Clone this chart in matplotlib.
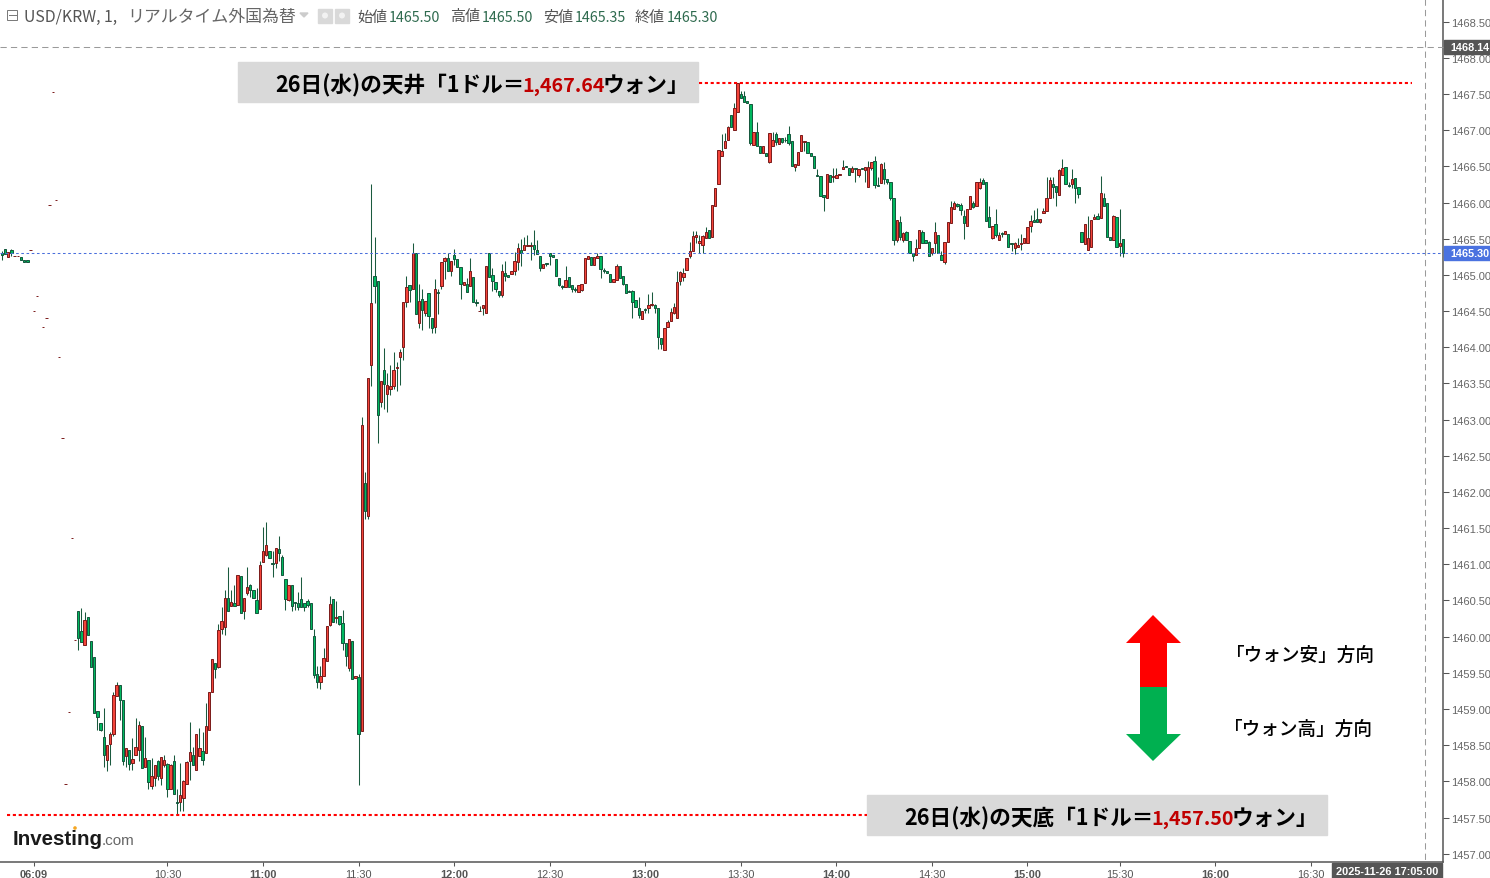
import matplotlib
matplotlib.use("Agg")
import matplotlib.pyplot as plt
from matplotlib.patches import Rectangle, Polygon, Circle

plt.rcParams['font.family'] = ['Noto Sans CJK JP', 'DejaVu Sans']

# thin pre-market bars (bar number counted back from the first full bar)
pre_bars = [-24, -23, -22, -21, -20, -19, -18, -17, -16, -15, -14, -13,
            -11, -10, -9, -8, -7, -6, -5, -4, -3, -2, -1]
pre_open = [1465.30, 1465.36, 1465.25, 1465.35, 1465.26, 1465.26, 1465.25, 1465.21, 1465.21, 1465.35, 1464.50, 1464.71,
            1464.28, 1464.41, 1465.96, 1467.53, 1466.03, 1463.86, 1462.74, 1457.97, 1458.96, 1461.37, 1459.96]
pre_high = [1465.33, 1465.36, 1465.32, 1465.36, 1465.26, 1465.26, 1465.25, 1465.21, 1465.21, 1465.35, 1464.50, 1464.71,
            1464.28, 1464.41, 1465.96, 1467.53, 1466.03, 1463.86, 1462.74, 1457.97, 1458.96, 1461.37, 1459.96]
pre_low = [1465.20, 1465.29, 1465.25, 1465.26, 1465.26, 1465.26, 1465.21, 1465.18, 1465.18, 1465.35, 1464.50, 1464.71,
           1464.28, 1464.41, 1465.96, 1467.53, 1466.03, 1463.86, 1462.74, 1457.97, 1458.96, 1461.37, 1459.96]
pre_close = [1465.28, 1465.29, 1465.32, 1465.30, 1465.26, 1465.26, 1465.21, 1465.18, 1465.18, 1465.35, 1464.50, 1464.71,
             1464.28, 1464.41, 1465.96, 1467.53, 1466.03, 1463.86, 1462.74, 1457.97, 1458.96, 1461.37, 1459.96]

opens = [
    1460.35, 1460.08, 1459.89, 1460.27, 1459.94, 1459.72, 1458.97, 1458.81, 1458.61, 1458.29,
    1458.51, 1458.65, 1459.18, 1459.33, 1459.12, 1458.35, 1458.43, 1458.25, 1458.36, 1458.43,
    1458.77, 1458.20, 1458.29, 1457.93, 1458.04, 1458.28, 1458.04, 1458.22, 1458.24, 1457.89,
    1458.28, 1457.71, 1457.71, 1457.77, 1457.96, 1458.28, 1458.36, 1458.15, 1458.35, 1458.42,
    1458.39, 1458.71, 1459.24, 1459.63, 1459.58, 1460.10, 1460.13, 1460.53, 1460.42, 1460.47,
    1460.44, 1460.84, 1460.35, 1460.60, 1460.71, 1460.64, 1460.51, 1460.38, 1461.03, 1461.13,
    1461.18, 1461.02, 1461.02, 1461.21, 1461.10, 1460.80, 1460.51, 1460.71, 1460.48, 1460.46,
    1460.52, 1460.47, 1460.49, 1460.47, 1460.01, 1459.48, 1459.37, 1459.46, 1459.66, 1460.16,
    1460.52, 1460.26, 1460.29, 1460.19, 1459.91, 1459.57, 1459.94, 1459.43, 1459.44, 1458.70,
    1462.13, 1461.67,
    1463.75, 1464.98, 1464.92, 1463.24, 1463.69, 1463.35, 1463.42, 1463.46, 1463.71, 1463.87,
    1464.00, 1464.63, 1464.86, 1464.81, 1465.30, 1464.34, 1464.66, 1464.47, 1464.75, 1464.40,
    1464.28, 1464.76, 1464.85, 1465.19, 1465.23, 1465.05, 1465.28, 1465.22, 1465.11, 1464.86,
    1464.87, 1464.85, 1464.97, 1464.62, 1464.50, 1464.54, 1464.47, 1465.30, 1465.00, 1464.90,
    1464.78, 1464.72, 1465.03, 1465.00, 1465.01, 1465.05, 1465.18, 1465.34, 1465.34, 1465.40,
    1465.40, 1465.41, 1465.34, 1465.26, 1465.10, 1465.16, 1465.30, 1465.28, 1465.22, 1464.96,
    1464.85, 1464.83, 1464.97, 1464.86, 1464.80, 1464.76, 1464.79, 1464.89, 1465.22, 1465.25,
    1465.14, 1465.23, 1465.26, 1465.07, 1465.05, 1465.01, 1464.90, 1464.93, 1465.12, 1464.98,
    1464.87, 1464.78, 1464.78, 1464.65, 1464.54, 1464.39, 1464.53, 1464.54, 1464.58, 1464.58,
    1464.54, 1464.13, 1463.96, 1464.28, 1464.36, 1464.47, 1464.40, 1464.91, 1464.97,
    1465.07, 1465.26, 1465.33, 1465.53, 1465.44, 1465.41, 1465.51, 1465.62, 1465.52, 1465.95,
    1466.25, 1466.64, 1466.75, 1466.86, 1467.21, 1467.00, 1467.25, 1467.50, 1467.47, 1467.40,
    1467.36, 1466.80, 1466.97, 1466.78, 1466.68, 1466.68, 1466.56, 1466.78, 1466.95, 1466.81,
    1466.89, 1466.87, 1466.95, 1466.85, 1466.49, 1466.52, 1466.71, 1466.84, 1466.84, 1466.68,
    1466.64, 1466.38, 1466.37, 1466.10, 1466.06, 1466.38, 1466.35, 1466.34, 1466.38, 1466.46,
    1466.50, 1466.48, 1466.42, 1466.48, 1466.38, 1466.48, 1466.45, 1466.22, 1466.48, 1466.57,
    1466.24, 1466.27, 1466.46, 1466.32, 1466.28, 1466.06, 1465.48, 1465.73, 1465.48, 1465.59,
    1465.47, 1465.30, 1465.27, 1465.37, 1465.59, 1465.48, 1465.45, 1465.30, 1465.44, 1465.55,
    1465.27, 1465.18, 1465.45, 1465.72, 1465.91, 1465.98, 1465.97, 1465.82, 1465.67, 1465.91,
    1465.99, 1465.95, 1466.20, 1466.31, 1466.28, 1465.80, 1465.51, 1465.70, 1465.48, 1465.58,
    1465.57, 1465.57, 1465.44, 1465.37, 1465.39, 1465.43, 1465.44, 1465.44, 1465.68, 1465.76,
    1465.77, 1465.73, 1465.86, 1465.88, 1466.06, 1466.25, 1466.23, 1466.10, 1466.38, 1466.49,
    1466.24, 1466.25, 1466.34, 1466.21, 1465.59, 1465.43, 1465.34, 1465.39, 1465.77, 1465.81,
    1465.79, 1466.06, 1465.99, 1465.52, 1465.48, 1465.80, 1465.40, 1465.50,
]
highs = [
    1460.35, 1460.40, 1460.34, 1460.27, 1459.94, 1459.72, 1458.97, 1458.81, 1459.01, 1458.50,
    1458.68, 1459.23, 1459.37, 1459.33, 1459.12, 1458.46, 1458.43, 1458.60, 1458.88, 1458.84,
    1458.77, 1458.61, 1458.29, 1458.32, 1458.23, 1458.30, 1458.34, 1458.36, 1458.25, 1458.24,
    1458.36, 1457.89, 1458.25, 1458.02, 1458.28, 1458.82, 1458.47, 1458.65, 1458.74, 1458.68,
    1459.08, 1459.23, 1459.69, 1459.63, 1460.17, 1460.41, 1460.65, 1460.96, 1460.64, 1460.72,
    1460.85, 1460.84, 1460.53, 1460.96, 1460.73, 1460.64, 1460.67, 1461.04, 1461.52, 1461.58,
    1461.18, 1461.18, 1461.22, 1461.39, 1461.13, 1460.80, 1460.71, 1460.71, 1460.48, 1460.62,
    1460.82, 1460.47, 1460.52, 1460.47, 1460.11, 1459.59, 1459.59, 1459.84, 1460.15, 1460.56,
    1460.52, 1460.49, 1460.29, 1460.37, 1459.91, 1459.97, 1459.94, 1459.46, 1459.49, 1463.04,
    1462.27, 1463.58,
    1466.26, 1465.52, 1464.92, 1463.53, 1463.99, 1463.64, 1463.76, 1463.93, 1463.80, 1463.98,
    1464.62, 1464.99, 1464.86, 1465.44, 1465.30, 1464.87, 1464.80, 1464.64, 1464.75, 1464.40,
    1464.95, 1464.80, 1465.18, 1465.25, 1465.30, 1465.19, 1465.36, 1465.22, 1465.11, 1464.90,
    1464.96, 1465.23, 1464.97, 1464.66, 1464.57, 1464.59, 1465.12, 1465.30, 1465.10, 1464.90,
    1464.78, 1465.15, 1465.19, 1465.00, 1465.05, 1465.32, 1465.44, 1465.50, 1465.53, 1465.55,
    1465.45, 1465.62, 1465.48, 1465.26, 1465.15, 1465.16, 1465.30, 1465.28, 1465.22, 1464.96,
    1464.86, 1465.12, 1464.97, 1464.86, 1464.83, 1464.86, 1464.87, 1465.23, 1465.26, 1465.25,
    1465.25, 1465.30, 1465.26, 1465.10, 1465.05, 1465.01, 1464.94, 1465.15, 1465.12, 1464.98,
    1464.87, 1464.79, 1464.79, 1464.65, 1464.69, 1464.50, 1464.54, 1464.74, 1464.76, 1464.60,
    1464.54, 1464.13, 1464.27, 1464.37, 1464.54, 1464.61, 1465.05, 1465.05, 1465.10,
    1465.23, 1465.45, 1465.61, 1465.61, 1465.55, 1465.55, 1465.66, 1465.62, 1465.97, 1466.20,
    1466.73, 1466.95, 1466.96, 1467.06, 1467.21, 1467.38, 1467.65, 1467.54, 1467.54, 1467.40,
    1467.36, 1466.97, 1467.11, 1466.78, 1466.78, 1466.68, 1466.96, 1466.98, 1466.98, 1466.89,
    1466.89, 1466.91, 1467.06, 1466.85, 1466.53, 1466.70, 1466.93, 1466.85, 1466.84, 1466.68,
    1466.64, 1466.47, 1466.37, 1466.10, 1466.39, 1466.38, 1466.48, 1466.48, 1466.39, 1466.59,
    1466.50, 1466.48, 1466.50, 1466.48, 1466.46, 1466.48, 1466.49, 1466.57, 1466.56, 1466.65,
    1466.36, 1466.55, 1466.56, 1466.32, 1466.28, 1466.06, 1465.76, 1465.82, 1465.59, 1465.61,
    1465.47, 1465.30, 1465.49, 1465.62, 1465.62, 1465.48, 1465.47, 1465.37, 1465.73, 1465.55,
    1465.33, 1465.45, 1465.73, 1466.02, 1466.02, 1465.99, 1465.99, 1465.90, 1465.91, 1466.09,
    1466.02, 1466.28, 1466.34, 1466.34, 1466.28, 1465.95, 1465.68, 1465.91, 1465.59, 1465.59,
    1465.61, 1465.57, 1465.44, 1465.45, 1465.51, 1465.57, 1465.51, 1465.66, 1465.83, 1465.90,
    1465.92, 1465.77, 1465.92, 1466.36, 1466.36, 1466.35, 1466.23, 1466.46, 1466.60, 1466.49,
    1466.28, 1466.46, 1466.34, 1466.21, 1465.59, 1465.70, 1465.82, 1465.76, 1465.84, 1465.86,
    1466.37, 1466.13, 1465.99, 1465.52, 1465.83, 1465.80, 1465.91, 1465.50,
]
lows = [
    1459.81, 1459.92, 1459.89, 1460.02, 1459.58, 1458.95, 1458.71, 1458.69, 1458.20, 1458.14,
    1458.22, 1458.63, 1459.18, 1458.85, 1458.23, 1458.20, 1458.16, 1458.15, 1458.36, 1458.28,
    1458.18, 1458.20, 1457.90, 1457.90, 1457.94, 1458.02, 1457.95, 1458.20, 1457.79, 1457.89,
    1457.82, 1457.54, 1457.59, 1457.59, 1457.96, 1458.02, 1458.22, 1458.15, 1458.35, 1458.23,
    1458.39, 1458.71, 1459.24, 1459.43, 1459.56, 1460.03, 1460.02, 1460.36, 1460.42, 1460.43,
    1460.44, 1460.33, 1460.25, 1460.57, 1460.55, 1460.53, 1460.33, 1460.38, 1461.03, 1461.11,
    1461.09, 1460.82, 1460.95, 1461.04, 1460.85, 1460.37, 1460.49, 1460.35, 1460.37, 1460.37,
    1460.41, 1460.35, 1460.41, 1460.11, 1459.43, 1459.29, 1459.27, 1459.46, 1459.66, 1460.15,
    1460.20, 1460.19, 1460.16, 1459.82, 1459.60, 1459.52, 1459.41, 1459.43, 1457.95, 1458.70,
    1461.62, 1461.62,
    1463.47, 1464.61, 1462.68, 1463.18, 1463.15, 1463.11, 1463.34, 1463.42, 1463.39, 1463.48,
    1463.83, 1464.55, 1464.62, 1464.81, 1464.46, 1464.27, 1464.24, 1464.43, 1464.27, 1464.20,
    1464.20, 1464.46, 1464.80, 1464.95, 1465.05, 1464.98, 1465.14, 1465.11, 1464.66, 1464.86,
    1464.77, 1464.85, 1464.63, 1464.57, 1464.50, 1464.45, 1464.47, 1464.97, 1464.78, 1464.77,
    1464.70, 1464.70, 1464.91, 1464.97, 1465.01, 1465.00, 1465.07, 1465.12, 1465.34, 1465.40,
    1465.20, 1465.27, 1465.29, 1465.05, 1465.10, 1465.12, 1465.14, 1465.25, 1464.98, 1464.84,
    1464.80, 1464.83, 1464.83, 1464.77, 1464.77, 1464.76, 1464.78, 1464.89, 1465.22, 1465.14,
    1465.14, 1465.23, 1464.96, 1465.03, 1465.03, 1464.90, 1464.90, 1464.93, 1464.96, 1464.86,
    1464.75, 1464.76, 1464.40, 1464.55, 1464.40, 1464.39, 1464.47, 1464.47, 1464.57, 1464.48,
    1463.97, 1463.97, 1463.96, 1464.28, 1464.36, 1464.46, 1464.40, 1464.86, 1464.91,
    1465.07, 1465.24, 1465.33, 1465.44, 1465.30, 1465.30, 1465.51, 1465.51, 1465.52, 1465.95,
    1466.25, 1466.64, 1466.75, 1466.86, 1467.05, 1467.00, 1467.25, 1467.44, 1467.39, 1467.38,
    1466.80, 1466.79, 1466.78, 1466.68, 1466.68, 1466.64, 1466.54, 1466.78, 1466.80, 1466.81,
    1466.82, 1466.84, 1466.79, 1466.50, 1466.43, 1466.52, 1466.71, 1466.71, 1466.68, 1466.64,
    1466.48, 1466.37, 1466.09, 1465.89, 1466.06, 1466.28, 1466.29, 1466.34, 1466.38, 1466.46,
    1466.49, 1466.38, 1466.42, 1466.28, 1466.35, 1466.46, 1466.29, 1466.22, 1466.45, 1466.20,
    1466.23, 1466.27, 1466.25, 1466.25, 1466.03, 1465.41, 1465.46, 1465.48, 1465.46, 1465.48,
    1465.30, 1465.19, 1465.27, 1465.37, 1465.44, 1465.44, 1465.26, 1465.27, 1465.30, 1465.30,
    1465.20, 1465.15, 1465.45, 1465.72, 1465.91, 1465.94, 1465.83, 1465.49, 1465.67, 1465.91,
    1465.92, 1465.95, 1466.19, 1466.25, 1465.74, 1465.66, 1465.49, 1465.53, 1465.48, 1465.53,
    1465.57, 1465.39, 1465.33, 1465.29, 1465.39, 1465.35, 1465.44, 1465.44, 1465.59, 1465.73,
    1465.73, 1465.72, 1465.86, 1465.88, 1466.06, 1466.06, 1465.95, 1466.10, 1466.38, 1466.25,
    1466.21, 1466.20, 1466.00, 1466.06, 1465.45, 1465.43, 1465.34, 1465.39, 1465.77, 1465.77,
    1465.79, 1465.95, 1465.52, 1465.48, 1465.48, 1465.39, 1465.26, 1465.25,
]
closes = [
    1459.98, 1459.92, 1460.23, 1460.02, 1459.58, 1458.95, 1458.89, 1458.71, 1458.36, 1458.50,
    1458.65, 1459.19, 1459.33, 1459.12, 1458.28, 1458.46, 1458.24, 1458.31, 1458.47, 1458.78,
    1458.18, 1458.32, 1457.99, 1458.07, 1458.23, 1458.08, 1458.34, 1458.30, 1457.90, 1458.23,
    1457.82, 1457.70, 1457.81, 1458.00, 1458.27, 1458.41, 1458.22, 1458.65, 1458.46, 1458.29,
    1458.77, 1459.23, 1459.69, 1459.55, 1460.09, 1460.22, 1460.53, 1460.36, 1460.48, 1460.43,
    1460.85, 1460.33, 1460.53, 1460.69, 1460.64, 1460.53, 1460.33, 1460.99, 1461.18, 1461.27,
    1461.09, 1461.00, 1461.22, 1461.16, 1460.85, 1460.52, 1460.71, 1460.42, 1460.46, 1460.41,
    1460.41, 1460.41, 1460.44, 1460.11, 1459.47, 1459.37, 1459.45, 1459.70, 1460.15, 1460.45,
    1460.20, 1460.27, 1460.17, 1459.91, 1459.73, 1459.97, 1459.41, 1459.46, 1458.65, 1462.93,
    1461.74, 1463.58,
    1464.61, 1464.84, 1463.07, 1463.53, 1463.49, 1463.48, 1463.46, 1463.69, 1463.73, 1463.94,
    1464.62, 1464.83, 1464.79, 1465.30, 1464.46, 1464.64, 1464.51, 1464.64, 1464.43, 1464.27,
    1464.80, 1464.75, 1465.18, 1465.23, 1465.05, 1465.19, 1465.22, 1465.11, 1464.87, 1464.90,
    1464.77, 1465.05, 1464.63, 1464.61, 1464.50, 1464.59, 1465.12, 1464.97, 1464.92, 1464.80,
    1464.72, 1465.05, 1464.98, 1464.97, 1465.05, 1465.19, 1465.37, 1465.30, 1465.41, 1465.41,
    1465.41, 1465.36, 1465.29, 1465.09, 1465.15, 1465.15, 1465.26, 1465.25, 1464.98, 1464.86,
    1464.83, 1464.93, 1464.83, 1464.80, 1464.79, 1464.86, 1464.87, 1465.23, 1465.26, 1465.14,
    1465.25, 1465.26, 1465.08, 1465.06, 1465.03, 1464.90, 1464.94, 1465.12, 1464.96, 1464.87,
    1464.75, 1464.76, 1464.63, 1464.55, 1464.44, 1464.50, 1464.51, 1464.58, 1464.60, 1464.54,
    1464.14, 1464.04, 1464.27, 1464.35, 1464.49, 1464.56, 1464.90, 1465.04, 1465.03,
    1465.23, 1465.33, 1465.54, 1465.55, 1465.47, 1465.54, 1465.59, 1465.51, 1465.97, 1466.20,
    1466.73, 1466.71, 1466.85, 1467.04, 1467.05, 1467.31, 1467.65, 1467.44, 1467.39, 1467.38,
    1466.82, 1466.97, 1466.78, 1466.69, 1466.78, 1466.64, 1466.96, 1466.86, 1466.84, 1466.89,
    1466.84, 1466.86, 1466.82, 1466.50, 1466.53, 1466.70, 1466.93, 1466.85, 1466.68, 1466.64,
    1466.48, 1466.37, 1466.09, 1466.08, 1466.39, 1466.28, 1466.37, 1466.38, 1466.39, 1466.49,
    1466.49, 1466.38, 1466.48, 1466.46, 1466.46, 1466.46, 1466.49, 1466.49, 1466.56, 1466.24,
    1466.23, 1466.53, 1466.32, 1466.28, 1466.06, 1465.48, 1465.76, 1465.53, 1465.58, 1465.48,
    1465.30, 1465.26, 1465.37, 1465.62, 1465.44, 1465.44, 1465.26, 1465.37, 1465.59, 1465.30,
    1465.20, 1465.45, 1465.73, 1465.94, 1465.99, 1465.95, 1465.90, 1465.72, 1465.91, 1466.09,
    1465.94, 1466.28, 1466.28, 1466.25, 1465.74, 1465.66, 1465.68, 1465.55, 1465.55, 1465.57,
    1465.61, 1465.39, 1465.43, 1465.44, 1465.41, 1465.44, 1465.51, 1465.66, 1465.74, 1465.73,
    1465.73, 1465.77, 1465.88, 1466.06, 1466.31, 1466.21, 1466.15, 1466.45, 1466.48, 1466.25,
    1466.23, 1466.32, 1466.20, 1466.12, 1465.45, 1465.70, 1465.51, 1465.76, 1465.80, 1465.77,
    1466.13, 1465.95, 1465.52, 1465.48, 1465.81, 1465.39, 1465.44, 1465.30,
]

price_ticks = [1457 + 0.5 * i for i in range(24)]
time_bars = [-14, 28, 58, 88, 118, 148, 178, 208, 238, 268, 298, 327, 357, 387]
time_labels = ["06:09", "10:30", "11:00", "11:30", "12:00", "12:30", "13:00",
               "13:30", "14:00", "14:30", "15:00", "15:30", "16:00", "16:30"]

last_price = 1465.30

bars = pre_bars + list(range(len(opens)))
o = pre_open + opens
h = pre_high + highs
l = pre_low + lows
c = pre_close + closes

fig = plt.figure(figsize=(14.9, 8.79), dpi=100, facecolor="white")
ax = fig.add_axes([0, 16 / 879, 1443 / 1490, 863 / 879])

fill = ["#f4443a" if ci >= oi else "#00b85f" for oi, ci in zip(o, c)]
edge = ["#7a1a1a" if ci >= oi else "#14553c" for oi, ci in zip(o, c)]
ax.vlines(bars, l, h, color="#1a5a3e", lw=0.75, zorder=2)
ax.bar(bars, [abs(a - b) for a, b in zip(c, o)], bottom=[min(a, b) for a, b in zip(c, o)],
       width=0.74, color=fill, edgecolor=edge, linewidth=0.7, zorder=3)
ax.axhline(last_price, color="#4a6fdc", lw=0.75, ls=(0, (2.5, 2.5)), zorder=4)

ax.set_xlim(-78.3 / 3.185, (1443 - 78.3) / 3.185)
ax.set_ylim(1457 - 8.3 / 72.35, 1457 + 854.7 / 72.35)
for s in ["top", "left"]:
    ax.spines[s].set_visible(False)
for s in ["right", "bottom"]:
    ax.spines[s].set_color("#555555")
    ax.spines[s].set_linewidth(1.1)
ax.yaxis.tick_right()
ax.set_yticks(price_ticks)
ax.set_yticklabels([f"{p:.2f}" for p in price_ticks], fontsize=8, family="Liberation Sans", color="#666666")
ax.set_xticks(time_bars)
ax.set_xticklabels(time_labels, fontsize=7.9, family="Liberation Sans", color="#555555")
for t in ax.get_xticklabels():
    if t.get_text().endswith(":00") or t.get_text() == "06:09":
        t.set_fontweight("bold")
ax.tick_params(axis="y", length=4.3, width=0.75, color="#555555", pad=1.5)
ax.tick_params(axis="x", length=3, width=0.75, color="#555555", pad=2)

# annotation layer in picture pixels
ov = fig.add_axes([0, 0, 1, 1], zorder=5)
ov.set_xlim(0, 1490)
ov.set_ylim(879, 0)
ov.axis("off")
ov.patch.set_alpha(0)

# crosshair
ov.plot([0, 1443], [47.5, 47.5], color="#9a9a9a", lw=0.75, ls=(0, (6, 4)))
ov.plot([1424.5, 1424.5], [0, 862], color="#9a9a9a", lw=0.75, ls=(0, (6, 4)))

# header
ov.add_patch(Rectangle((7, 11), 10, 10, fill=False, ec="#777777", lw=0.7))
ov.plot([8.5, 15.5], [16, 16], color="#777777", lw=0.7)
ov.text(24, 21.5, "USD/KRW, 1,", fontsize=11.4, color="#555555", va="baseline")
ov.text(127, 21.5, "リアルタイム外国為替", fontsize=12.2, color="#666666", va="baseline")
ov.add_patch(Polygon([[300, 14], [308, 14], [304, 18]], color="#cccccc"))
for x0, r in [(318, 3), (335, 3)]:
    ov.add_patch(Rectangle((x0, 9.5), 14, 14, color="#d9d9d9"))
    ov.add_patch(Circle((x0 + 7, 16.5), r, fc="#f2f2f2", ec="none"))
for x0, name, val in [(357, "始値", "1465.50"), (450, "高値", "1465.50"),
                      (543, "安値", "1465.35"), (635, "終値", "1465.30")]:
    ov.text(x0, 21.5, name, fontsize=10.8, color="#555555", va="baseline")
    ov.text(x0 + 32, 21.5, val, fontsize=10.3, color="#2f6b4f", va="baseline")

# high and low boxes
ov.add_patch(Rectangle((238, 63), 460, 40, color="#d9d9d9"))
ov.add_patch(Rectangle((867, 796), 460, 40, color="#d9d9d9"))
ov.plot([699, 1412], [83.5, 83.5], color="#ff0000", lw=1.5, ls=(0, (1.5, 1.3)))
ov.plot([7, 867], [816.5, 816.5], color="#ff0000", lw=1.5, ls=(0, (1.5, 1.3)))
kw = dict(fontsize=15.6, fontweight="bold", va="baseline")
red = dict(fontsize=14.2, fontweight="bold", va="baseline", color="#c00000")
ov.text(275, 92, "26日(水)の天井「1ドル＝", color="black", **kw)
ov.text(522, 92, "1,467.64", **red)
ov.text(603, 92, "ウォン」", color="black", **kw)
ov.text(904, 825, "26日(水)の天底「1ドル＝", color="black", **kw)
ov.text(1151, 825, "1,457.50", **red)
ov.text(1232, 825, "ウォン」", color="black", **kw)

# arrows
ov.add_patch(Polygon([[1153, 616], [1181, 644], [1167, 644], [1167, 688],
                      [1140, 688], [1140, 644], [1126, 644]], color="#ff0000", lw=0))
ov.add_patch(Polygon([[1140, 688], [1167, 688], [1167, 735], [1181, 735], [1153, 762],
                      [1126, 735], [1140, 735]], color="#00b050", lw=0))
ov.text(1226, 660.5, "「ウォン安」方向", fontsize=13.4, fontweight="medium", color="black", va="baseline")
ov.text(1224, 734.5, "「ウォン高」方向", fontsize=13.4, fontweight="medium", color="black", va="baseline")

# logo
ov.text(13, 845, "Investing", fontsize=14.8, fontweight="bold", family="Liberation Sans",
        color="#1a1a1a", va="baseline")
ov.text(102, 845, ".com", fontsize=11, family="Liberation Sans", color="#666666", va="baseline")
ov.add_patch(Circle((75, 829), 1.8, fc="#f5a623", ec="none"))

# price and time labels on the axes
ov.add_patch(Rectangle((1444, 41), 46, 14, color="#555555"))
ov.text(1450, 48, "1468.14", fontsize=7.8, fontweight="bold", family="Liberation Sans",
        color="white", va="center")
ov.add_patch(Rectangle((1444, 247), 46, 14, color="#4a72e0"))
ov.text(1450, 254, "1465.30", fontsize=7.8, fontweight="bold", family="Liberation Sans",
        color="white", va="center")
ov.add_patch(Rectangle((1332, 864), 110, 15, color="#555555"))
ov.text(1387, 872.5, "2025-11-26 17:05:00", fontsize=7.9, fontweight="bold", family="Liberation Sans",
        color="white", va="center", ha="center")

fig.savefig("out.png", dpi=100)
